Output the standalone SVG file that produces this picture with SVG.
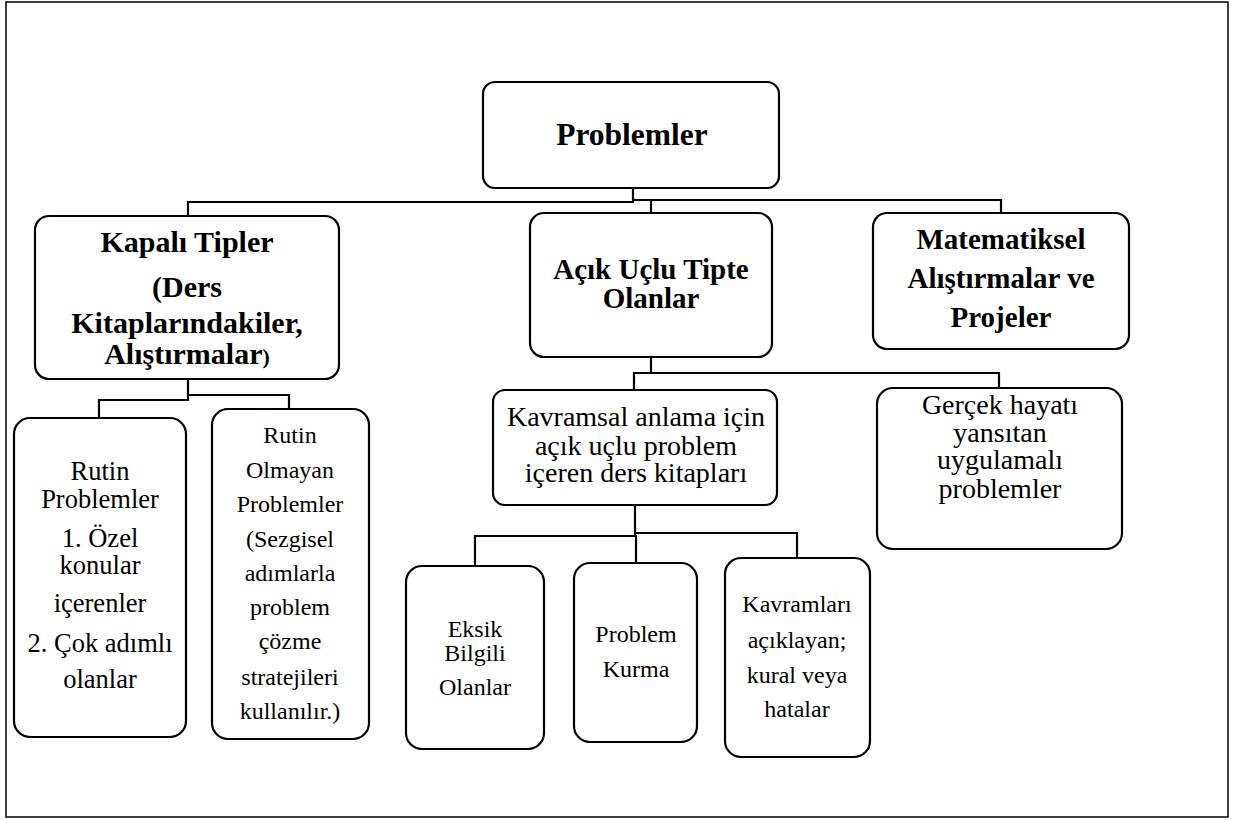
<svg xmlns="http://www.w3.org/2000/svg" width="1235" height="820" viewBox="0 0 1235 820">
<style>
.bg{fill:#fff}
.frame{fill:none;stroke:#000;stroke-width:1.5}
.box{fill:#fff;stroke:#000;stroke-width:2.2}
.con{fill:none;stroke:#000;stroke-width:2.2}
text{font-family:"Liberation Serif","Times New Roman",serif;fill:#000;text-anchor:middle}
.b{font-weight:bold}
</style>
<rect class="bg" x="0" y="0" width="1235" height="820"/>
<rect class="frame" x="6" y="2" width="1222" height="815"/>
<g id="connectors">
<polyline class="con" points="633,188 633,202 188,202 188,216"/>
<polyline class="con" points="633,200 1001,200 1001,213"/>
<line class="con" x1="651" y1="200" x2="651" y2="213"/>
<polyline class="con" points="651,357 651,373 634,373 634,390"/>
<polyline class="con" points="651,373 999,373 999,388"/>
<polyline class="con" points="188,379 188,400 99,400 99,418"/>
<polyline class="con" points="188,395 289,395 289,409"/>
<polyline class="con" points="635,505 635,536 475,536 475,566"/>
<line class="con" x1="636" y1="535" x2="636" y2="563"/>
<polyline class="con" points="635,533 797,533 797,558"/>
</g>
<g id="problemler">
<rect class="box" x="483" y="82" width="296" height="106" rx="12"/>
<text class="b" x="632" y="145" font-size="31.5">Problemler</text>
</g>
<g id="kapali">
<rect class="box" x="35" y="216" width="304" height="163" rx="14"/>
<text class="b" x="187" y="252" font-size="30">Kapalı Tipler</text>
<text class="b" x="187" y="297" font-size="30">(Ders</text>
<text class="b" x="187" y="333" font-size="30">Kitaplarındakiler,</text>
<text class="b" x="187" y="364" font-size="30">Alıştırmalar<tspan font-size="22">)</tspan></text>
</g>
<g id="acik">
<rect class="box" x="530" y="213" width="242" height="144" rx="14"/>
<text class="b" x="651" y="279" font-size="29">Açık Uçlu Tipte</text>
<text class="b" x="651" y="308" font-size="29">Olanlar</text>
</g>
<g id="matematiksel">
<rect class="box" x="873" y="213" width="256" height="136" rx="14"/>
<text class="b" x="1001" y="249" font-size="29">Matematiksel</text>
<text class="b" x="1001" y="288" font-size="29">Alıştırmalar ve</text>
<text class="b" x="1001" y="327" font-size="29">Projeler</text>
</g>
<g id="rutin">
<rect class="box" x="14" y="418" width="172" height="319" rx="16"/>
<text x="100" y="480" font-size="26.5">Rutin</text>
<text x="100" y="508" font-size="26.5">Problemler</text>
<text x="100" y="547" font-size="26.5">1. Özel</text>
<text x="100" y="574" font-size="26.5">konular</text>
<text x="100" y="612" font-size="26.5">içerenler</text>
<text x="100" y="652" font-size="26.5">2. Çok adımlı</text>
<text x="100" y="688" font-size="26.5">olanlar</text>
</g>
<g id="rutin-olmayan">
<rect class="box" x="212" y="409" width="157" height="330" rx="16"/>
<text x="290" y="443" font-size="24">Rutin</text>
<text x="290" y="478" font-size="24">Olmayan</text>
<text x="290" y="512" font-size="24">Problemler</text>
<text x="290" y="547" font-size="24">(Sezgisel</text>
<text x="290" y="581" font-size="24">adımlarla</text>
<text x="290" y="615" font-size="24">problem</text>
<text x="290" y="649" font-size="24">çözme</text>
<text x="290" y="685" font-size="24">stratejileri</text>
<text x="290" y="719" font-size="24">kullanılır.)</text>
</g>
<g id="kavramsal">
<rect class="box" x="493" y="390" width="284" height="115" rx="12"/>
<text x="636" y="426" font-size="28">Kavramsal anlama için</text>
<text x="636" y="455" font-size="28">açık uçlu problem</text>
<text x="636" y="482" font-size="28">içeren ders kitapları</text>
</g>
<g id="gercek">
<rect class="box" x="877" y="388" width="245" height="161" rx="16"/>
<text x="1000" y="414" font-size="28">Gerçek hayatı</text>
<text x="1000" y="442" font-size="28">yansıtan</text>
<text x="1000" y="469" font-size="28">uygulamalı</text>
<text x="1000" y="498" font-size="28">problemler</text>
</g>
<g id="eksik">
<rect class="box" x="406" y="566" width="138" height="183" rx="16"/>
<text x="475" y="637" font-size="24">Eksik</text>
<text x="475" y="661" font-size="24">Bilgili</text>
<text x="475" y="695" font-size="24">Olanlar</text>
</g>
<g id="problem-kurma">
<rect class="box" x="574" y="563" width="123" height="179" rx="16"/>
<text x="636" y="642" font-size="24">Problem</text>
<text x="636" y="677" font-size="24">Kurma</text>
</g>
<g id="kavramlari">
<rect class="box" x="725" y="558" width="145" height="199" rx="16"/>
<text x="797" y="612" font-size="24">Kavramları</text>
<text x="797" y="648" font-size="24">açıklayan;</text>
<text x="797" y="683" font-size="24">kural veya</text>
<text x="797" y="717" font-size="24">hatalar</text>
</g>
</svg>
